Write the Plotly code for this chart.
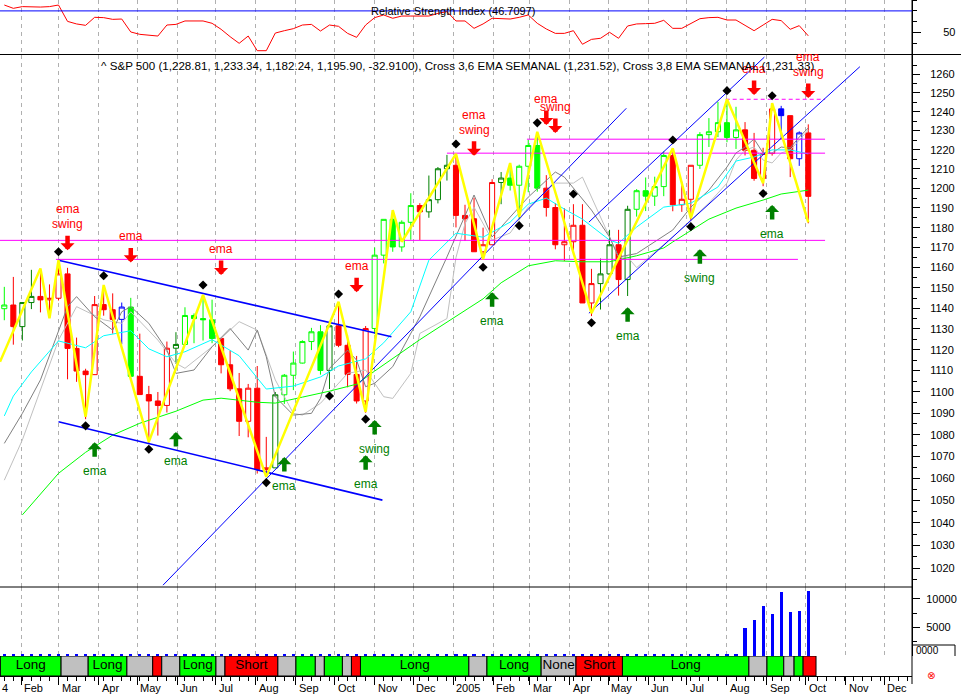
import numpy as np
import pandas as pd
import plotly.graph_objects as go

# ---------------- DATA ----------------
weeks = pd.date_range("2004-01-19", periods=90, freq="7D")

opens = [1139.8,1141.6,1131.1,1142.8,1145.8,1144.1,1144.9,1156.9,1120.6,1109.8,
         1108.1,1141.8,1139.3,1134.6,1140.6,1107.3,1098.7,1095.7,1093.6,1120.7,
         1122.5,1136.5,1135.0,1134.4,1125.4,1112.8,1101.4,1086.2,1101.7,1064.0,
         1064.8,1098.6,1107.8,1113.6,1123.9,1128.6,1110.1,1131.5,1122.1,1108.2,
         1095.7,1130.2,1166.2,1184.2,1170.3,1182.7,1191.2,1188.0,1194.2,1210.1,
         1211.9,1186.2,1184.5,1167.9,1171.4,1203.0,1205.3,1201.6,1211.4,1222.2,
         1200.1,1190.2,1171.4,1172.9,1181.2,1142.6,1152.1,1156.9,1171.4,1154.1,
         1189.3,1198.8,1196.0,1200.9,1217.0,1191.6,1194.4,1211.9,1227.9,1229.4,
         1234.2,1226.4,1230.4,1219.7,1205.1,1218.0,1241.5,1237.9,1215.3,1228.8]
highs = [1150.5,1155.4,1142.5,1158.9,1159.0,1151.7,1163.2,1159.9,1125.8,1110.9,
         1146.0,1150.6,1147.3,1142.8,1145.1,1127.7,1102.8,1099.9,1123.9,1128.4,
         1140.5,1137.5,1146.3,1144.2,1125.4,1119.6,1108.9,1103.7,1112.2,1079.0,
         1099.9,1108.4,1119.1,1124.5,1130.5,1131.8,1131.5,1142.1,1127.0,1117.0,
         1131.4,1170.0,1184.2,1188.9,1183.7,1197.5,1192.4,1206.6,1211.0,1217.3,
         1217.8,1191.6,1195.2,1180.0,1204.7,1208.4,1212.4,1212.2,1225.2,1229.1,
         1206.8,1192.5,1189.8,1191.9,1191.9,1159.4,1164.5,1178.9,1178.9,1191.1,
         1199.6,1205.6,1206.0,1219.1,1219.6,1203.4,1211.9,1229.2,1236.6,1245.2,
         1245.9,1242.6,1234.5,1228.8,1221.0,1243.1,1243.1,1237.9,1229.6,1233.3]
lows = [1134.2,1122.4,1124.4,1139.6,1138.0,1136.0,1143.8,1105.9,1104.7,1087.2,
        1108.0,1136.4,1127.7,1122.6,1107.2,1098.6,1076.3,1079.6,1090.3,1113.3,
        1122.3,1123.1,1124.4,1123.1,1108.7,1100.3,1079.4,1078.8,1062.2,1060.7,
        1064.8,1094.3,1100.8,1113.4,1119.8,1108.1,1101.3,1121.2,1102.1,1094.5,
        1090.2,1127.6,1162.1,1167.9,1167.9,1173.9,1173.8,1185.0,1192.3,1204.0,
        1180.1,1173.3,1167.8,1163.8,1171.4,1191.9,1198.9,1184.2,1198.0,1198.3,
        1185.6,1169.1,1163.3,1168.7,1142.6,1136.2,1139.4,1154.8,1146.2,1146.0,
        1185.6,1188.4,1191.0,1196.0,1188.3,1188.0,1183.6,1210.0,1221.4,1226.6,
        1223.9,1220.4,1217.0,1203.9,1201.1,1216.9,1225.6,1205.8,1211.6,1182.2]
closes = [1141.6,1131.1,1142.8,1145.8,1144.1,1144.9,1156.9,1120.6,1109.8,1108.1,
          1141.8,1139.3,1134.6,1140.6,1107.3,1098.7,1095.7,1093.6,1120.7,1122.5,
          1136.5,1135.0,1134.4,1125.4,1112.8,1101.4,1086.2,1101.7,1064.0,1064.8,
          1098.6,1107.8,1113.6,1123.9,1128.6,1110.1,1131.5,1122.1,1108.2,1095.7,
          1130.2,1166.2,1184.2,1170.3,1182.7,1191.2,1188.0,1194.2,1210.1,1211.9,
          1186.2,1184.5,1167.9,1171.4,1203.0,1205.3,1201.6,1211.4,1222.2,1200.1,
          1190.2,1171.4,1172.9,1181.2,1142.6,1152.1,1156.9,1171.4,1154.1,1189.3,
          1198.8,1196.0,1200.9,1217.0,1191.6,1194.4,1211.9,1227.9,1229.4,1234.2,
          1226.4,1230.4,1219.7,1205.1,1218.0,1241.5,1237.9,1215.3,1228.8,1195.9]
# bar colour code per week: g=lime, G=dark green, r=red, b=blue
candle_colors = ("grGGrrrrrr" "rrrbgrrrrG" "ggggrrrrrr" "GgggggGrrr" "rgggggrGGG"
                 "rrrrrGgggg" "rrrrrrGGrG" "ggggrrrggg" "ggrrrrbrbr")

rsi = [75.5,72.4,74.0,73.6,73.6,74.0,75.5,60.2,57.8,56.5,
       64.0,63.7,62.1,62.4,50.3,48.1,47.2,46.5,56.8,57.4,
       60.6,60.6,60.6,58.4,52.8,45.9,39.7,46.5,32.8,32.8,
       49.3,51.5,53.4,56.8,57.4,51.2,56.8,55.6,49.0,45.3,
       56.8,63.7,66.2,63.1,65.2,65.2,65.2,65.2,67.7,69.3,
       60.6,60.6,53.7,57.8,63.1,62.7,62.4,64.0,66.2,58.4,
       53.1,49.0,49.0,51.5,38.8,43.4,44.4,50.0,44.4,55.9,
       57.8,58.1,58.4,61.2,53.7,53.7,58.1,62.7,63.7,64.0,
       61.5,61.5,56.5,51.5,56.8,62.1,60.9,52.8,56.2,46.7]
rsi_level = 70

volume = [300,300,350,300,300,300,350,300,300,300,
          350,300,300,300,350,300,300,300,350,300,
          300,300,350,300,300,300,350,300,300,300,
          300,350,300,300,300,350,300,300,300,350,
          300,300,300,350,300,300,300,350,300,300,
          300,300,300,300,300,300,400,400,400,400,
          300,400,300,400,400,400,400,400,400,400,
          300,300,300,300,300,400,400,400,400,400,
          400,400,4880,6320,8760,7320,11150,7660,7890,11430]

cyan_k = [0,1,3,6,9,11,14,16,18,20,23,26,29,32,35,37,40,42,45,47,50,53,56,58,60,62,64,67,68,70,73,76,79,81,83,85,87,89]
cyan_p = [1088.7,1098.0,1109.4,1124.2,1120.9,1126.7,1129.1,1120.4,1116.6,1119.0,1124.8,1117.1,1101.3,1102.7,
          1107.0,1112.2,1115.6,1123.3,1138.3,1163.7,1177.2,1175.2,1182.8,1191.9,1195.0,1189.4,1184.3,1173.7,
          1172.2,1180.3,1190.4,1192.4,1200.7,1214.1,1216.2,1219.9,1219.9,1217.8]
green_k = [2,6,9,12,15,19,22,24,28,30,33,36,39,41,46,53,55,58,61,64,67,70,73,74,78,81,84,86,89]
green_p = [1043.6,1062.3,1071.9,1079.8,1085.3,1090.9,1096.1,1097.0,1095.1,1094.7,1097.5,1100.3,1103.6,1109.8,
           1124.8,1144.6,1152.5,1160.9,1163.4,1162.9,1162.9,1165.9,1169.8,1172.8,1184.3,1189.9,1194.0,1197.1,1199.1]
dgray_k = [0,2,4,6,7,8,10,12,13,14,16,18,19,21,23,25,27,28,29,30,32,34,35,36,38,39,40,41,43,46,
           49,52,54,58,61,62,65,67,68,70,74,76,78,80,81,82,83,84,85,86,87,88,89]
dgray_p = [1076.0,1089.9,1105.6,1129.4,1140.8,1145.7,1135.9,1129.4,1138.3,1140.8,1132.7,1119.8,1108.7,1110.3,
           1121.4,1130.2,1119.8,1129.4,1116.6,1097.7,1089.1,1089.9,1096.9,1111.1,1119.8,1115.0,1102.4,1104.0,
           1111.9,1135.9,1165.3,1196.6,1175.3,1195.5,1208.4,1205.8,1188.9,1175.3,1165.3,1167.0,1178.8,1190.4,
           1199.1,1211.0,1218.3,1221.4,1225.6,1218.3,1218.3,1221.4,1220.9,1226.6,1231.4]
lgray_k = [0,2,6,8,11,13,14,17,19,20,23,26,28,30,32,33,35,38,40,42,43,45,46,49,50,51,52,54,56,58,
           61,63,64,66,68,69,70,74,76,78,80,81,82,83,84,85,86,87,89]
lgray_p = [1059.2,1077.6,1124.6,1140.8,1134.4,1132.7,1138.3,1124.6,1113.5,1111.1,1121.4,1133.5,1129.4,1105.6,
           1089.9,1089.1,1094.6,1108.7,1110.3,1097.7,1096.9,1108.7,1127.8,1135.0,1165.0,1182.0,1190.4,1173.8,
           1177.3,1190.4,1202.7,1202.7,1205.8,1185.3,1165.3,1165.3,1160.0,1175.3,1183.9,1192.5,1202.7,1214.6,
           1219.8,1221.4,1214.6,1213.1,1218.3,1219.8,1230.3]

zz_start = ("2004-01-15 16:00", 1114.2)
zz_k = [4,5,6,9,11,16,22,29,37,40,43,44,50,53,56,57,59,65,74,76,80,84,85,89]
zz_p = [1159.6,1135.1,1163.7,1088.3,1151.4,1076.7,1146.5,1060.7,1143.2,1090.6,1188.9,1172.9,
        1217.8,1164.2,1213.1,1185.5,1229.4,1137.6,1220.7,1184.8,1246.6,1202.6,1244.5,1182.7]

dia_k = [6,11,22,9,16,29,37,36,40,50,53,57,59,63,65,74,76,80,84,85]
dia_p = [1167.9,1156.0,1151.4,1084.1,1073.3,1058.1,1147.0,1098.0,1087.2,1223.0,
         1160.2,1181.0,1234.1,1197.1,1133.0,1225.1,1180.5,1251.2,1197.4,1248.5]

# horizontal levels: start, end, price, dashed
levels = [("2004-01-15", "2005-10-16", 1173.6, False),
          ("2004-02-28", "2005-09-25", 1164.1, False),
          ("2004-12-27", "2005-10-16", 1218.2, False),
          ("2005-02-27", "2005-10-16", 1225.5, False),
          ("2005-07-31", "2005-10-16", 1246.6, True)]
# trend lines: start, end, price0, price1, width
trends = [("2004-03-01", "2004-11-14", 1163.7, 1126.2, 1.6),
          ("2004-03-01", "2004-11-07", 1086.0, 1050.2, 1.6),
          ("2004-05-21", "2005-05-15", 1012.7, 1241.8, 1.0),
          ("2005-04-16", "2005-11-12", 1137.6, 1264.1, 1.0),
          ("2005-04-16", "2005-08-30", 1182.8, 1269.3, 1.0)]

sell_k = [7,14,24,39,52,60,61,83,89]
sell_p = [1168.7,1162.6,1156.3,1147.9,1216.8,1232.9,1228.7,1248.9,1247.3]
sell_txt = ["ema|swing","ema","ema","ema","ema|swing","ema","swing","ema","ema|swing"]
buy_k = [10,19,31,41,40,54,69,77,85]
buy_p = [1076.5,1081.2,1069.7,1086.8,1070.6,1147.9,1140.5,1169.2,1191.5]
buy_txt = ["ema","ema","ema","swing","ema","ema","ema","swing","ema"]

sig_starts = ["2004-01-16","2004-03-03","2004-03-24","2004-04-23","2004-05-13","2004-05-20","2004-06-03",
              "2004-07-01","2004-07-08","2004-08-18","2004-09-01","2004-09-16","2004-09-23","2004-10-07",
              "2004-10-14","2004-10-21","2005-01-13","2005-01-27","2005-03-10","2005-04-06","2005-05-12",
              "2005-08-18","2005-09-01","2005-09-14","2005-09-22","2005-09-29"]
sig_end = "2005-10-09"
sig_state = ['L','N','L','N','S','N','L','N','S','N','L','N','L','N','S','L','N','L','N','S','L','N','L','N','L','S']
sig_label = ['Long','','Long','','','','Long','','Short','','','','','','','Long','','Long','None','Short',
             'Long','','','','','']

header = ("^ S&P 500 (1,228.81, 1,233.34, 1,182.24, 1,195.90, -32.9100), Cross 3,6 EMA SEMANAL (1,231.52), "
          "Cross 3,8 EMA SEMANAL (1,231.33)")
rsi_title = "Relative Strength Index (46.7097)"

# ---------------- LAYOUT GEOMETRY ----------------
W, H = 961, 694
MR, MB = 49, 18
PW, PH = W - MR, H - MB
FONT = "Liberation Sans, Arial, sans-serif"
X_START, X_END = "2004-01-15 16:00", "2005-12-22 09:00"


def dom(top_px, bot_px):
    return [(PH - bot_px) / PH, (PH - top_px) / PH]


def wk(ks):
    return [weeks[k] for k in ks]


fig = go.Figure()

# RSI
fig.add_trace(go.Scatter(x=weeks, y=rsi, xaxis="x3", yaxis="y", mode="lines",
                         line=dict(color="#FF0000", width=1), hoverinfo="skip"))

# moving-average style lines
for ks, ps, col in [(lgray_k, lgray_p, "#C0C0C0"), (dgray_k, dgray_p, "#808080"),
                    (cyan_k, cyan_p, "#00FFFF"), (green_k, green_p, "#00FF00")]:
    fig.add_trace(go.Scatter(x=wk(ks), y=ps, xaxis="x2", yaxis="y2", mode="lines",
                             line=dict(color=col, width=1), hoverinfo="skip"))

# candles
col_map = {"g": "#00FF00", "G": "#008000", "r": "#FF0000", "b": "#0000FF"}
for code, col in col_map.items():
    idx = [i for i, c in enumerate(candle_colors) if c == code]
    fig.add_trace(go.Candlestick(
        x=[weeks[i] for i in idx], open=[opens[i] for i in idx], high=[highs[i] for i in idx],
        low=[lows[i] for i in idx], close=[closes[i] for i in idx], xaxis="x2", yaxis="y2",
        increasing=dict(line=dict(color=col, width=1), fillcolor="#FFFFFF"),
        decreasing=dict(line=dict(color=col, width=1), fillcolor=col),
        whiskerwidth=0, hoverinfo="skip"))

# horizontal levels
for s, e, p, dashed in levels:
    fig.add_trace(go.Scatter(x=[s, e], y=[p, p], xaxis="x2", yaxis="y2", mode="lines",
                             line=dict(color="#FF00FF", width=1, dash="4px,3px" if dashed else "solid"),
                             hoverinfo="skip"))
# trend lines
for s, e, p0, p1, w in trends:
    fig.add_trace(go.Scatter(x=[s, e], y=[p0, p1], xaxis="x2", yaxis="y2", mode="lines",
                             line=dict(color="#0000FF", width=w), hoverinfo="skip"))

# zigzag
fig.add_trace(go.Scatter(x=[pd.Timestamp(zz_start[0])] + wk(zz_k), y=[zz_start[1]] + zz_p,
                         xaxis="x2", yaxis="y2", mode="lines",
                         line=dict(color="#FFFF00", width=2.5), hoverinfo="skip"))
# pivot diamonds
fig.add_trace(go.Scatter(x=wk(dia_k), y=dia_p, xaxis="x2", yaxis="y2", mode="markers",
                         marker=dict(symbol="diamond", size=7, color="black"), hoverinfo="skip"))

# volume
fig.add_trace(go.Bar(x=weeks, y=volume, xaxis="x4", yaxis="y3", width=2.4 * 86400000,
                     marker=dict(color="#0000FF", line=dict(width=0)), hoverinfo="skip"))

# signal strip
st = pd.to_datetime(sig_starts)
en = pd.to_datetime(sig_starts[1:] + [sig_end])
mid = st + (en - st) / 2
state_col = {"L": "#00FF00", "S": "#FF0000", "N": "#C0C0C0"}
fig.add_trace(go.Bar(x=mid, y=[1] * len(st), base=0, width=(en - st).total_seconds() * 1000,
                     xaxis="x", yaxis="y4",
                     marker=dict(color=[state_col[s] for s in sig_state], line=dict(color="black", width=1)),
                     hoverinfo="skip"))
fig.add_trace(go.Scatter(x=mid, y=[0.5] * len(st), text=sig_label, mode="text", xaxis="x", yaxis="y4",
                         textfont=dict(family=FONT, size=13.5, color="black"), hoverinfo="skip"))

# ---------------- annotations ----------------
ann = []
for k, p, t in zip(sell_k, sell_p, sell_txt):
    ann.append(dict(x=weeks[k], y=np.log10(p), xref="x2", yref="y2", text="", showarrow=True,
                    ax=0, ay=-16, arrowhead=1, arrowsize=0.52, arrowwidth=4.5, arrowcolor="#FF0000"))
    parts = t.split("|")
    for j, word in enumerate(reversed(parts)):
        ann.append(dict(x=weeks[k], y=np.log10(p), xref="x2", yref="y2", text=word, showarrow=False,
                        yshift=26 + 15 * j, font=dict(family=FONT, size=12, color="#FF0000")))
for k, p, t in zip(buy_k, buy_p, buy_txt):
    ann.append(dict(x=weeks[k], y=np.log10(p), xref="x2", yref="y2", text="", showarrow=True,
                    ax=0, ay=16, arrowhead=1, arrowsize=0.52, arrowwidth=4.5, arrowcolor="#008000"))
    ann.append(dict(x=weeks[k], y=np.log10(p), xref="x2", yref="y2", text=t, showarrow=False,
                    yshift=-29, font=dict(family=FONT, size=12, color="#008000")))

ann.append(dict(x=99 / PW, y=(PH - 65) / PH, xref="paper", yref="paper", text=header, showarrow=False,
                xanchor="left", yanchor="middle", font=dict(family=FONT, size=11.6, color="black")))
ann.append(dict(x=369 / PW, y=(PH - 11) / PH, xref="paper", yref="paper", text=rsi_title, showarrow=False,
                xanchor="left", yanchor="middle", font=dict(family=FONT, size=11, color="black")))

months = pd.date_range("2004-02-01", "2005-12-01", freq="MS")
for m in months:
    lab = m.strftime("%Y") if m.month == 1 else m.strftime("%b")
    ann.append(dict(x=m, y=-12 / PH, xref="x", yref="paper", text=lab, showarrow=False,
                    xanchor="left", yanchor="middle", xshift=1,
                    font=dict(family=FONT, size=11, color="black")))
ann.append(dict(x=0, y=-12 / PH, xref="paper", yref="paper", text="4", showarrow=False,
                xanchor="left", yanchor="middle", font=dict(family=FONT, size=11, color="black")))
ann.append(dict(x=937 / PW, y=-7 / PH, xref="paper", yref="paper", text="⊗", showarrow=False,
                font=dict(family="DejaVu Sans", size=10, color="#FF0000")))
ann.append(dict(x=914 / PW, y=(PH - 650) / PH, xref="paper", yref="paper", text="0000", showarrow=False,
                xanchor="left", yanchor="middle", font=dict(family=FONT, size=10, color="black")))

shapes = [
    dict(type="line", xref="paper", yref="paper", x0=0, x1=W / PW, y0=(PH - 54.5) / PH, y1=(PH - 54.5) / PH,
         line=dict(color="black", width=1)),
    dict(type="line", xref="paper", yref="paper", x0=0, x1=1, y0=(PH - 587) / PH, y1=(PH - 587) / PH,
         line=dict(color="black", width=1)),
    dict(type="line", xref="paper", yref="paper", x0=1, x1=1, y0=-8 / PH, y1=1,
         line=dict(color="black", width=1)),
    dict(type="line", xref="paper", yref="y", x0=0, x1=1, y0=rsi_level, y1=rsi_level,
         line=dict(color="#0000FF", width=1)),
    dict(type="line", xref="paper", yref="paper", x0=913 / PW, x1=955 / PW, y0=(PH - 645) / PH,
         y1=(PH - 645) / PH, line=dict(color="black", width=1)),
    dict(type="line", xref="paper", yref="paper", x0=955 / PW, x1=955 / PW, y0=(PH - 645) / PH,
         y1=(PH - 656) / PH, line=dict(color="black", width=1)),
]

grid_x = dict(type="date", matches="x", showgrid=True, gridcolor="#B0B0B0", griddash="4px,4px",
              gridwidth=1, dtick="M1", tick0="2004-01-01", ticks="", showticklabels=False,
              zeroline=False, showline=False)

main_ticks = list(range(1020, 1261, 10))
main_minor = list(range(1015, 1266, 10))

fig.update_layout(
    width=W, height=H, margin=dict(l=0, r=MR, t=0, b=MB, autoexpand=False),
    paper_bgcolor="white", plot_bgcolor="white", showlegend=False,
    font=dict(family=FONT, size=11, color="black"),
    bargap=0, barmode="overlay", boxgap=0.2,
    xaxis=dict(type="date", range=[X_START, X_END], domain=[0, 1], anchor="y4",
               showgrid=False, zeroline=False, showline=True, linecolor="black", linewidth=1,
               ticks="outside", ticklen=8, tickcolor="black", dtick="M1", tick0="2004-01-01",
               showticklabels=False, rangeslider=dict(visible=False),
               minor=dict(ticks="outside", ticklen=4, tickcolor="black", dtick=7 * 86400000,
                          tick0="2004-01-19")),
    xaxis2=dict(anchor="y2", rangeslider=dict(visible=False), **grid_x),
    xaxis3=dict(anchor="y", **grid_x),
    xaxis4=dict(anchor="y3", **grid_x),
    yaxis=dict(domain=dom(0, 54.5), anchor="x3", side="right", range=[29.25, 80.19],
               showgrid=False, zeroline=False, showline=True, linecolor="black",
               tickvals=[50], ticks="outside", ticklen=8, tickcolor="black", ticklabelstandoff=20,
               tickfont=dict(size=11),
               minor=dict(tickvals=[40, 60, 70, 80], ticks="outside", ticklen=4, tickcolor="black")),
    yaxis2=dict(domain=dom(54.5, 587), anchor="x2", side="right", type="log",
                range=[np.log10(1011.9), np.log10(1270.7)],
                showgrid=False, zeroline=False, showline=True, linecolor="black",
                tickvals=main_ticks, ticktext=[str(v) for v in main_ticks],
                ticks="outside", ticklen=7, tickcolor="black", ticklabelstandoff=8,
                tickfont=dict(size=11),
                minor=dict(tickvals=main_minor, ticks="outside", ticklen=4, tickcolor="black")),
    yaxis3=dict(domain=dom(587, 656), anchor="x4", side="right", range=[0, 12060],
                showgrid=False, zeroline=False, showline=True, linecolor="black",
                tickvals=[5000, 10000], ticktext=["5000", "10000"],
                ticks="outside", ticklen=7, tickcolor="black",
                ticklabelstandoff=4, tickfont=dict(size=11),
                minor=dict(tickvals=[2500, 7500], ticks="outside", ticklen=4, tickcolor="black")),
    yaxis4=dict(domain=dom(656, 676), anchor="x", range=[0, 1], visible=False, fixedrange=True),
    annotations=ann, shapes=shapes,
)

fig.write_html("out.html", config={"displayModeBar": False, "staticPlot": True},
               post_script="document.body.style.margin='0';document.body.style.overflow='hidden';")
